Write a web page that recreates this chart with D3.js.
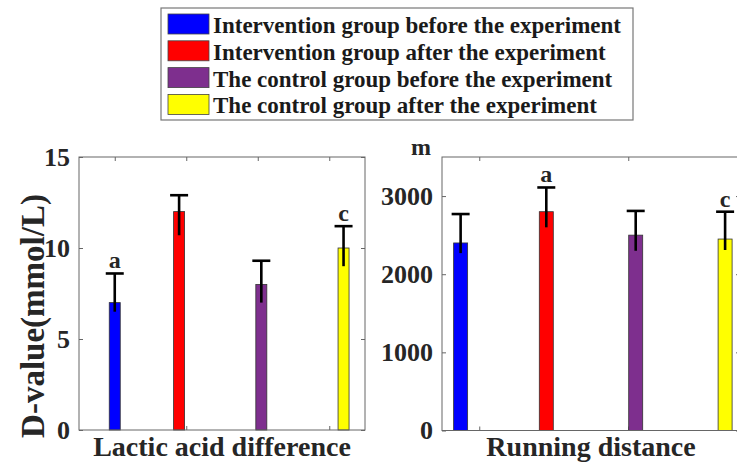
<!DOCTYPE html>
<html>
<head>
<meta charset="utf-8">
<script src="https://cdn.jsdelivr.net/npm/d3@7"></script>
<style>
  html, body { margin: 0; padding: 0; background: #fff; }
</style>
</head>
<body>
<div id="chart"></div>
<script>
// series names and colours (legend order)
var groups = [
  "Intervention group before the experiment",
  "Intervention group after the experiment",
  "The control group before the experiment",
  "The control group after the experiment"
];
var colors = ["#0000ff", "#ff0000", "#7e2f8e", "#ffff00"];

// lactic acid difference (mmol/L)
var lacticMean = [7, 12, 8, 10];
var lacticHigh = [8.6, 12.9, 9.3, 11.2];
var lacticLow  = [6.5, 10.7, 7.0, 9.0];
var lacticMarks = ["a", "", "", "c"];
var lacticPos = [0.80, 0.89, 1.005, 1.12];
var lacticYTicks = [0, 5, 10, 15];
var lacticXTicks = [0.8, 0.9, 1.0, 1.1];

// running distance (m)
var distMean = [2400, 2800, 2500, 2450];
var distHigh = [2770, 3110, 2810, 2800];
var distLow  = [2270, 2600, 2300, 2310];
var distMarks = ["", "a", "", "c"];
var distPos = [0.775, 0.89, 1.01, 1.13];
var distYTicks = [0, 1000, 2000, 3000];
var distXTicks = [0.8, 1.0];

var width = 737;
var height = 466;
var serif = "Liberation Serif";

var svg = d3.select("#chart")
            .append("svg")
            .attr("width", width)
            .attr("height", height);

svg.append("rect")
   .attr("width", width)
   .attr("height", height)
   .attr("fill", "#fff");

// every text gets the serif font set on itself
function label(sel, size) {
    return sel.attr("font-family", serif)
              .attr("font-weight", "bold")
              .attr("font-size", size)
              .attr("fill", "#262626");
}

function drawPanel(p) {
    var x = d3.scaleLinear().domain([0.75, 1.15]).range([p.left, p.right]);
    var y = d3.scaleLinear().domain([0, p.ymax]).range([p.bottom, p.top]);

    var g = svg.append("g");

    // y axis, ticks pointing inward
    var yAxis = g.append("g")
                 .attr("transform", `translate(${p.left},0)`)
                 .call(d3.axisLeft(y).tickValues(p.yTicks).tickFormat(d3.format("d"))
                         .tickSize(-4).tickSizeOuter(0).tickPadding(9));
    yAxis.attr("font-family", serif).attr("font-size", 26);
    yAxis.select(".domain").remove();
    yAxis.selectAll("line").attr("stroke", "#666");
    label(yAxis.selectAll("text"), 26);

    g.append("g")
     .attr("transform", `translate(${p.right},0)`)
     .call(d3.axisRight(y).tickValues(p.yTicks).tickSize(-4).tickSizeOuter(0).tickFormat(""))
     .call(a => a.select(".domain").remove())
     .selectAll("line").attr("stroke", "#666");

    // x ticks top and bottom
    g.append("g")
     .attr("transform", `translate(0,${p.bottom})`)
     .call(d3.axisBottom(x).tickValues(p.xTicks).tickSize(-4).tickSizeOuter(0).tickFormat(""))
     .call(a => a.select(".domain").remove())
     .selectAll("line").attr("stroke", "#666");
    g.append("g")
     .attr("transform", `translate(0,${p.top})`)
     .call(d3.axisTop(x).tickValues(p.xTicks).tickSize(-4).tickSizeOuter(0).tickFormat(""))
     .call(a => a.select(".domain").remove())
     .selectAll("line").attr("stroke", "#666");

    // bars
    g.selectAll("rect.bar")
     .data(p.mean)
     .enter()
     .append("rect")
     .attr("class", "bar")
     .attr("x", (d, i) => x(p.pos[i]) - p.barW / 2)
     .attr("y", d => y(d))
     .attr("width", p.barW)
     .attr("height", d => y(0) - y(d))
     .attr("fill", (d, i) => colors[i])
     .attr("stroke", "#333")
     .attr("stroke-width", 0.8);

    // error bars
    var err = g.selectAll("g.err")
               .data(p.mean)
               .enter()
               .append("g")
               .attr("class", "err")
               .attr("stroke", "#000")
               .attr("stroke-width", 2.6);
    err.append("line")
       .attr("x1", (d, i) => x(p.pos[i]))
       .attr("x2", (d, i) => x(p.pos[i]))
       .attr("y1", (d, i) => y(p.low[i]))
       .attr("y2", (d, i) => y(p.high[i]));
    err.append("line")
       .attr("x1", (d, i) => x(p.pos[i]) - 9)
       .attr("x2", (d, i) => x(p.pos[i]) + 9)
       .attr("y1", (d, i) => y(p.high[i]))
       .attr("y2", (d, i) => y(p.high[i]));

    // significance letters
    label(g.selectAll("text.mark")
           .data(p.marks)
           .enter()
           .append("text")
           .attr("class", "mark")
           .attr("x", (d, i) => x(p.pos[i]))
           .attr("y", (d, i) => y(p.high[i]) - 5)
           .attr("text-anchor", "middle"), 24)
     .text(d => d);

    // box
    g.append("rect")
     .attr("x", p.left)
     .attr("y", p.top)
     .attr("width", p.right - p.left)
     .attr("height", p.bottom - p.top)
     .attr("fill", "none")
     .attr("stroke", "#666")
     .attr("stroke-width", 1);

    // x label
    label(g.append("text")
           .attr("x", (p.left + p.right) / 2)
           .attr("y", 456)
           .attr("text-anchor", "middle"), 28)
     .text(p.xLabel);
}

drawPanel({
    left: 79, right: 365, top: 157, bottom: 430,
    ymax: 15, yTicks: lacticYTicks, xTicks: lacticXTicks,
    mean: lacticMean, high: lacticHigh, low: lacticLow,
    marks: lacticMarks, pos: lacticPos, barW: 11,
    xLabel: "Lactic acid difference"
});

drawPanel({
    left: 442, right: 740, top: 157, bottom: 430.5,
    ymax: 3500, yTicks: distYTicks, xTicks: distXTicks,
    mean: distMean, high: distHigh, low: distLow,
    marks: distMarks, pos: distPos, barW: 14,
    xLabel: "Running distance"
});

// y label and unit
label(svg.append("text")
         .attr("transform", "translate(44,316) rotate(-90)")
         .attr("text-anchor", "middle"), 33)
   .text("D-value(mmol/L)");

label(svg.append("text")
         .attr("x", 421)
         .attr("y", 155)
         .attr("text-anchor", "middle"), 24)
   .text("m");

// legend
var legend = svg.append("g");
legend.append("rect")
      .attr("x", 161)
      .attr("y", 8)
      .attr("width", 472)
      .attr("height", 112)
      .attr("fill", "#fff")
      .attr("stroke", "#777")
      .attr("stroke-width", 1.2);

var item = legend.selectAll("g.item")
                 .data(groups)
                 .enter()
                 .append("g")
                 .attr("class", "item")
                 .attr("transform", (d, i) => `translate(168,${14 + i * 26.8})`);
item.append("rect")
    .attr("width", 41)
    .attr("height", 20)
    .attr("fill", (d, i) => colors[i])
    .attr("stroke", "#444")
    .attr("stroke-width", 0.8);
label(item.append("text")
          .attr("x", 45)
          .attr("y", 19), 23)
    .attr("fill", "#1a1a1a")
    .text(d => d);
</script>
</body>
</html>
